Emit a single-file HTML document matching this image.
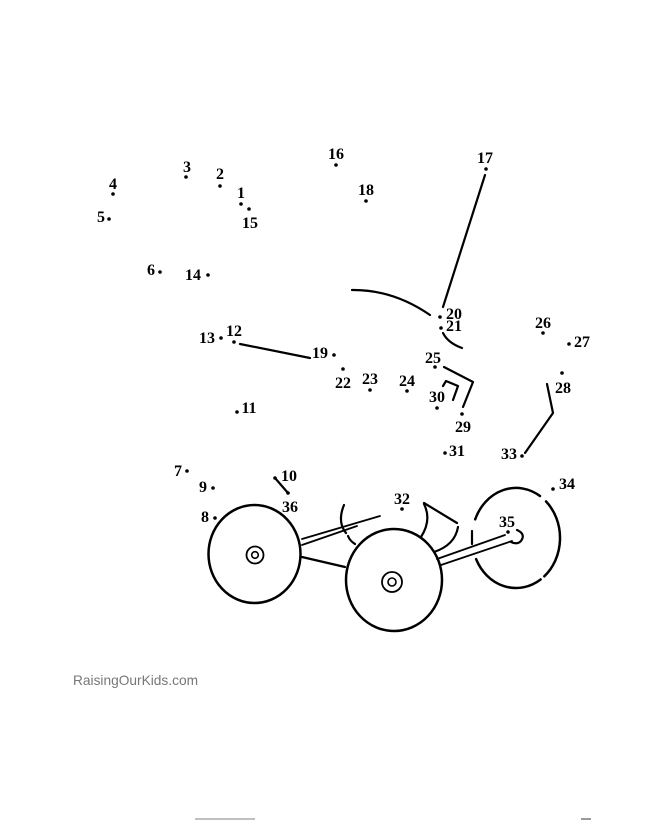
<!DOCTYPE html>
<html><head><meta charset="utf-8"><style>
html,body{margin:0;padding:0;background:#fff;}
svg{display:block;}
.n{font-family:"Liberation Serif",serif;font-weight:bold;font-size:16px;fill:#000;text-anchor:middle;}
</style></head><body>
<svg width="670" height="820" viewBox="0 0 670 820" xmlns="http://www.w3.org/2000/svg">
<rect width="670" height="820" fill="#fff"/>
<g fill="#000">
<circle cx="186" cy="177" r="1.8"/><circle cx="220" cy="186" r="1.8"/>
<circle cx="241" cy="204" r="1.8"/><circle cx="249" cy="209" r="1.8"/>
<circle cx="113" cy="194" r="1.8"/><circle cx="109" cy="219" r="1.8"/>
<circle cx="160" cy="272" r="1.8"/><circle cx="208" cy="275" r="1.8"/>
<circle cx="336" cy="165" r="1.8"/><circle cx="366" cy="201" r="1.8"/>
<circle cx="486" cy="169" r="1.8"/>
<circle cx="440" cy="317" r="1.8"/><circle cx="441" cy="328" r="1.8"/>
<circle cx="221" cy="338" r="1.8"/><circle cx="234" cy="342" r="1.8"/>
<circle cx="334" cy="355" r="1.8"/><circle cx="343" cy="369" r="1.8"/>
<circle cx="370" cy="390" r="1.8"/><circle cx="407" cy="391" r="1.8"/>
<circle cx="435" cy="367" r="1.8"/><circle cx="437" cy="408" r="1.8"/>
<circle cx="462" cy="414" r="1.8"/><circle cx="445" cy="453" r="1.8"/>
<circle cx="237" cy="412" r="1.8"/>
<circle cx="543" cy="333" r="1.8"/><circle cx="569" cy="344" r="1.8"/>
<circle cx="562" cy="373" r="1.8"/><circle cx="522" cy="456" r="1.8"/>
<circle cx="553" cy="489" r="1.8"/>
<circle cx="187" cy="471" r="1.8"/><circle cx="213" cy="488" r="1.8"/>
<circle cx="215" cy="518" r="1.8"/>
<circle cx="275" cy="478" r="1.8"/><circle cx="288" cy="493" r="1.8"/>
<circle cx="402" cy="509" r="1.8"/><circle cx="508" cy="532" r="1.8"/>
</g>
<g class="n">
<text x="187" y="172" class="n">3</text>
<text x="220" y="179" class="n">2</text>
<text x="241" y="198" class="n">1</text>
<text x="250" y="228" class="n">15</text>
<text x="113" y="189" class="n">4</text>
<text x="101" y="222" class="n">5</text>
<text x="151" y="275" class="n">6</text>
<text x="193" y="280" class="n">14</text>
<text x="336" y="159" class="n">16</text>
<text x="366" y="195" class="n">18</text>
<text x="485" y="163" class="n">17</text>
<text x="454" y="319" class="n">20</text>
<text x="454" y="331" class="n">21</text>
<text x="207" y="343" class="n">13</text>
<text x="234" y="336" class="n">12</text>
<text x="320" y="358" class="n">19</text>
<text x="343" y="388" class="n">22</text>
<text x="370" y="384" class="n">23</text>
<text x="407" y="386" class="n">24</text>
<text x="433" y="363" class="n">25</text>
<text x="437" y="402" class="n">30</text>
<text x="463" y="432" class="n">29</text>
<text x="457" y="456" class="n">31</text>
<text x="249" y="413" class="n">11</text>
<text x="543" y="328" class="n">26</text>
<text x="582" y="347" class="n">27</text>
<text x="563" y="393" class="n">28</text>
<text x="509" y="459" class="n">33</text>
<text x="567" y="489" class="n">34</text>
<text x="178" y="476" class="n">7</text>
<text x="203" y="492" class="n">9</text>
<text x="205" y="522" class="n">8</text>
<text x="289" y="481" class="n">10</text>
<text x="290" y="512" class="n">36</text>
<text x="402" y="504" class="n">32</text>
<text x="507" y="527" class="n">35</text>
</g>
<g fill="none" stroke="#000" stroke-width="2.2" stroke-linecap="round" stroke-linejoin="round">
<line x1="485" y1="175" x2="443" y2="307"/>
<path d="M352,290 Q393,289.5 430,315"/>
<path d="M443,333 Q448,343 462,348"/>
<line x1="240" y1="344" x2="310" y2="358"/>
<polyline points="444,367 473,382 463,407"/>
<polyline points="443,386 446,381 458,386 453,400"/>
<polyline points="547,384 553,413 525,453"/>
<line x1="275" y1="478" x2="288" y2="493"/>
<!-- wheels -->
<ellipse cx="254.5" cy="554" rx="46" ry="49" stroke-width="2.5"/>
<circle cx="255" cy="555" r="8.5" stroke-width="1.8"/>
<circle cx="255" cy="555" r="3.3" stroke-width="1.6"/>
<ellipse cx="394" cy="580" rx="48" ry="51" stroke-width="2.5"/>
<circle cx="392" cy="582" r="10" stroke-width="1.8"/>
<circle cx="392" cy="582" r="4" stroke-width="1.6"/>
<path d="M546,501.4 A44,50 0 0 1 544.3,576.3" stroke-width="2.5"/>
<path d="M540.6,579.5 A44,50 0 0 1 476.1,559.1" stroke-width="2.5"/>
<path d="M475.2,519.3 A44,50 0 0 1 540,496" stroke-width="2.5"/>
<line x1="472" y1="531" x2="472" y2="544"/>
<path d="M517,530 Q526,534 521,541 Q517,545 511,542"/>
<!-- axles & body -->
<line x1="302" y1="539" x2="380" y2="516" stroke-width="1.8"/>
<line x1="302" y1="545" x2="357" y2="526" stroke-width="1.8"/>
<line x1="302" y1="557" x2="345" y2="567"/>
<path d="M344,505 Q337,522 346,533"/>
<path d="M348,536 Q350,541 355,544"/>
<line x1="424" y1="503" x2="457" y2="523"/>
<path d="M424,504 Q432,520 421,537"/>
<path d="M458,527 Q455,545 434,552"/>
<line x1="437" y1="559" x2="505" y2="535" stroke-width="1.8"/>
<line x1="441" y1="565" x2="512" y2="541" stroke-width="1.8"/>
</g>
<text x="73" y="685" textLength="125" lengthAdjust="spacingAndGlyphs" style="font-family:'Liberation Sans',sans-serif;font-size:14px;fill:#777;">RaisingOurKids.com</text>
<line x1="195" y1="819" x2="255" y2="819" stroke="#aaa" stroke-width="1.5"/>
<line x1="581" y1="819" x2="591" y2="819" stroke="#777" stroke-width="1.5"/>
</svg>
</body></html>
